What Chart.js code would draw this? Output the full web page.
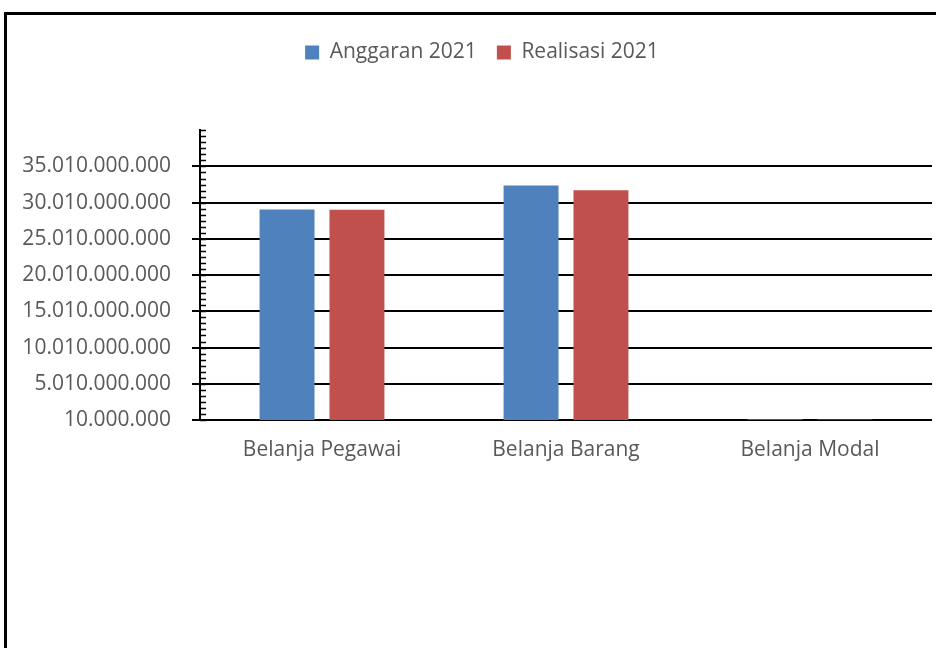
<!DOCTYPE html>
<html>
<head>
<meta charset="utf-8">
<script src="https://cdn.jsdelivr.net/npm/chart.js@4"></script>
<style>
html, body { margin: 0; padding: 0; background: #fff; overflow: hidden; }
#frame { position: absolute; left: 4px; top: 12px; width: 1200px; height: 1000px; border: 3px solid #000; }
#wrap { position: absolute; left: 0; top: 0; width: 936px; height: 648px; }
</style>
</head>
<body>
<div id="frame"></div>
<div id="wrap"><canvas id="chart" width="936" height="648"></canvas></div>
<script>
var categories = ['Belanja Pegawai', 'Belanja Barang', 'Belanja Modal'];
var anggaran2021 = [29070000000, 32380000000, 120000000];
var realisasi2021 = [29030000000, 31730000000, 90000000];
var yTicks = [10000000, 5010000000, 10010000000, 15010000000, 20010000000,
              25010000000, 30010000000, 35010000000, 40010000000];
var yMin = yTicks[0];
var yMax = yTicks[yTicks.length - 1];
var minorStep = 5000000000 / 6;

var textColor = '#595959';
var font = { family: 'Open Sans', size: 21 };

function fmt(v) {
    return Math.round(v).toString().replace(/\B(?=(\d{3})+(?!\d))/g, '.');
}

// small inner tick marks on the value axis
var minorTicks = {
    id: 'minorTicks',
    afterDraw: function(chart) {
        var y = chart.scales.y, ctx = chart.ctx;
        ctx.save();
        ctx.strokeStyle = '#000';
        ctx.lineWidth = 1.5;
        for (var v = yMin; v <= yMax + 1; v += minorStep) {
            var py = Math.round(y.getPixelForValue(v)) + 0.5;
            ctx.beginPath();
            ctx.moveTo(y.right, py);
            ctx.lineTo(y.right + 6, py);
            ctx.stroke();
        }
        ctx.restore();
    }
};

var ctx = document.getElementById('chart').getContext('2d');
var chart = new Chart(ctx, {
    type: 'bar',
    data: {
        labels: categories,
        datasets: [{
            label: 'Anggaran 2021',
            data: anggaran2021,
            backgroundColor: '#4F81BD',
            categoryPercentage: 0.573,
            barPercentage: 0.786
        }, {
            label: 'Realisasi 2021',
            data: realisasi2021,
            backgroundColor: '#C0504D',
            categoryPercentage: 0.573,
            barPercentage: 0.786
        }]
    },
    options: {
        responsive: false,
        animation: false,
        layout: { padding: { left: 32, right: 4, top: 22, bottom: 0 } },
        plugins: {
            legend: {
                position: 'top',
                labels: {
                    boxWidth: 14,
                    boxHeight: 14,
                    padding: 20,
                    color: textColor,
                    font: font
                }
            },
            // spacer between legend and plot
            title: {
                display: true,
                text: '',
                weight: 500,
                font: { size: 1 },
                padding: { top: 28, bottom: 28 }
            },
            tooltip: { enabled: false }
        },
        scales: {
            x: {
                grid: { display: false, drawTicks: false },
                border: { display: false },
                ticks: { color: textColor, font: font, padding: 17 },
                afterFit: function(s) { s.height = 228; }
            },
            y: {
                min: yMin,
                max: yMax,
                afterBuildTicks: function(s) {
                    s.ticks = yTicks.map(function(v) { return { value: v }; });
                },
                afterFit: function(s) {
                    s.width = 168;
                    // long labels reach past the axis box; don't clip them
                    s._computeLabelArea = function() { return null; };
                },
                ticks: {
                    autoSkip: false,
                    color: textColor,
                    font: font,
                    padding: 21,
                    callback: function(v) { return v === yMax ? '' : fmt(v); }
                },
                grid: {
                    color: function(c) {
                        return c.tick && c.tick.value === yMax ? 'rgba(0,0,0,0)' : '#000';
                    },
                    lineWidth: 2,
                    tickLength: 8
                },
                border: { color: '#000', width: 2 }
            }
        }
    },
    plugins: [minorTicks]
});
</script>
</body>
</html>
